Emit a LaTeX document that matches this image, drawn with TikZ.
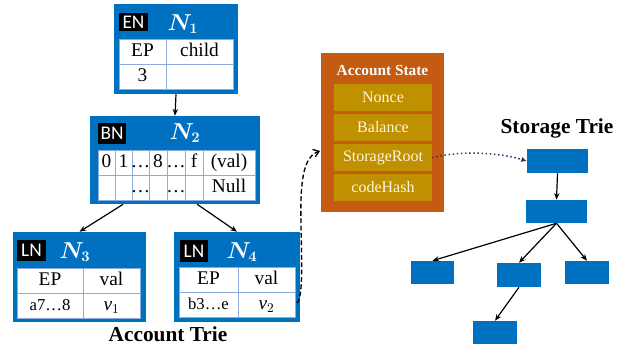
\documentclass[tikz,border=0pt]{standalone}
\usepackage{fontspec}
\setmainfont{Liberation Serif}
\newfontfamily\labfont{Carlito}
\usepackage{bm}
\usetikzlibrary{arrows.meta,fit,calc}

\definecolor{nodeblue}{HTML}{0070C0}
\definecolor{gridblue}{HTML}{8FAADC}
\definecolor{stateorange}{HTML}{C55A11}
\definecolor{fieldgold}{HTML}{BF9000}
\definecolor{fieldtext}{HTML}{FFF5DC}
\definecolor{linknavy}{HTML}{203864}

\tikzset{
  box/.style={fit={#1}, inner sep=0pt, draw=none, fill=nodeblue},
  tag/.style={fit={#1}, inner sep=0pt, fill=black},
  tagtext/.style={text=white, font=\labfont\fontsize{14.5}{16}\selectfont, inner sep=0pt},
  title/.style={text=white, font=\fontsize{16}{18}\selectfont, inner sep=0pt},
  table/.style={draw=gridblue, line width=0.6pt, fill=white},
  gridline/.style={draw=gridblue, line width=0.6pt},
  cell/.style={inner sep=0pt, text height=10pt, text depth=3pt,
    font=\fontsize{14.5}{16}\selectfont},
  smallcell/.style={cell, font=\fontsize{12.5}{14}\selectfont},
  field/.style={fit={#1}, inner sep=0pt, fill=fieldgold},
  fieldlabel/.style={text=fieldtext, inner sep=0pt, font=\fontsize{12}{14}\selectfont},
  link/.style={-{Stealth[length=5pt,width=4pt]}, line width=0.9pt},
  leaf/.style={fit={#1}, inner sep=0pt, fill=nodeblue},
  heading/.style={font=\bfseries\fontsize{16}{18}\selectfont, inner sep=0pt},
}

\begin{document}
\begin{tikzpicture}[x=0.75pt, y=-0.75pt]
\useasboundingbox (0,0) rectangle (624,352);
\fill[white] (0,0) rectangle (624,352);

% ---------- N1: extension node ----------
\node[box={(114,4) (238,94)}] (n1) {};
\node[tag={(119,13) (148,31)}] (n1tag) {};
\node[tagtext] (n1tagtext) at (133.5,22) {EN};
\node[title] (n1title) at (183,24) {$\bm{N}_{\bm 1}$};
\draw[table] (119,39) rectangle (233,89);
\draw[gridline] (166,39) -- (166,89) (119,64) -- (233,64);
\node[cell] (n1a) at (142.5,51.5) {EP};
\node[cell] (n1b) at (199.5,51.5) {child};
\node[cell] (n1c) at (142.5,76.5) {3};

% ---------- N2: branch node ----------
\node[box={(90,116) (260,204)}] (n2) {};
\node[tag={(98,123) (126,144)}] (n2tag) {};
\node[tagtext] (n2tagtext) at (112,133.5) {BN};
\node[title] (n2title) at (185,133) {$\bm{N}_{\bm 2}$};
\draw[table] (98,150) rectangle (255,200);
\draw[gridline] (98,175) -- (255,175);
\foreach \c in {115,132,149,167,185,203}
  \draw[gridline] (\c,150) -- (\c,200);
\node[cell] (b0) at (106.5,162.5) {0};
\node[cell] (b1) at (123.5,162.5) {1};
\node[cell] (b2) at (140.5,162.5) {\ldots};
\node[cell] (b8) at (158,162.5) {8};
\node[cell] (b9) at (176,162.5) {\ldots};
\node[cell] (bf) at (194,162.5) {f};
\node[cell] (bv) at (229,162.5) {(val)};
\node[cell] (c2) at (140.5,187.5) {\ldots};
\node[cell] (c9) at (176,187.5) {\ldots};
\node[cell] (cv) at (229,187.5) {Null};

% ---------- N3: leaf node ----------
\node[box={(13,232) (146,322)}] (n3) {};
\node[tag={(17,240) (46,261)}] (n3tag) {};
\node[tagtext] (n3tagtext) at (31.5,250.5) {LN};
\node[title] (n3title) at (75,252) {$\bm{N}_{\bm 3}$};
\draw[table] (17,268) rectangle (140,318);
\draw[gridline] (83,268) -- (83,318) (17,293) -- (140,293);
\node[cell] (n3a) at (50,280.5) {EP};
\node[cell] (n3b) at (111.5,280.5) {val};
\node[smallcell] (n3c) at (50,305.5) {a7…8};
\node[cell] (n3d) at (111.5,305.5) {$\mathit{v}_1$};

% ---------- N4: leaf node ----------
\node[box={(174,232) (300,322)}] (n4) {};
\node[tag={(180,240) (208,262)}] (n4tag) {};
\node[tagtext] (n4tagtext) at (194,251) {LN};
\node[title] (n4title) at (242,252) {$\bm{N}_{\bm 4}$};
\draw[table] (179,267) rectangle (295,317);
\draw[gridline] (238,267) -- (238,317) (179,292) -- (295,292);
\node[cell] (n4a) at (208.5,279.5) {EP};
\node[cell] (n4b) at (266.5,279.5) {val};
\node[smallcell] (n4c) at (208.5,304.5) {b3…e};
\node[cell] (n4d) at (266.5,304.5) {$\mathit{v}_2$};

\node[heading] (acctrie) at (168,334) {Account Trie};

% ---------- account trie edges ----------
\draw[link] (n1.south) -- (n2.north);
\draw[link] ($(n2.south west)!0.196!(n2.south east)$) -- (n3.north);
\draw[link] ($(n2.south west)!0.63!(n2.south east)$) -- (n4.north);

% ---------- account state ----------
\node[fit={(321,53) (444,212)}, inner sep=0pt, fill=stateorange] (as) {};
\node[text=white, inner sep=0pt, font=\bfseries\fontsize{11.5}{13}\selectfont] (astitle) at (382.5,71) {Account State};
\node[field={(334,84) (432,111)}] (nonce) {};
\node[fieldlabel] at (nonce.center) (noncel) {Nonce};
\node[field={(334,114) (432,141)}] (bal) {};
\node[fieldlabel] at (bal.center) (ball) {Balance};
\node[field={(334,144) (432,171)}] (sr) {};
\node[fieldlabel] at (sr.center) (srl) {StorageRoot};
\node[field={(334,174) (432,201)}] (ch) {};
\node[fieldlabel] at (ch.center) (chl) {codeHash};

% leaf value points to the account state
\coordinate (vstart) at (297,303);
\coordinate (vend) at (320,151);
\draw[dash pattern=on 3.5pt off 2pt, line width=1pt, -{Straight Barb[length=4pt,width=6pt]}]
  (vstart) .. controls (305,296) and (300,235) .. (301,200)
           .. controls (302,165) and (309,155) .. (vend);

% ---------- storage trie ----------
\node[heading] (sttrie) at (557,128) {Storage Trie};
\node[leaf={(527,149) (588,173)}] (s1) {};
\node[leaf={(526,200) (587,223)}] (s2) {};
\node[leaf={(411,261) (454,284)}] (s3) {};
\node[leaf={(497,263) (541,287)}] (s4) {};
\node[leaf={(565,261) (609,284)}] (s5) {};
\node[leaf={(473,321) (517,344)}] (s6) {};

\draw[link] (s1.south) -- (s2.north);
\draw[link] (s2.south) -- (s3.north);
\draw[link] (s2.south) -- (s4.north);
\draw[link] (s2.south) -- (s5.north);
\draw[link] (s4.south) -- (s6.north);

% storage root points to the storage trie
\draw[dotted, line width=1.1pt, linknavy, -{Latex[length=4pt,width=4pt]}]
  (sr.east) .. controls (465,150) and (500,153) .. (s1.west);
\end{tikzpicture}
\end{document}
